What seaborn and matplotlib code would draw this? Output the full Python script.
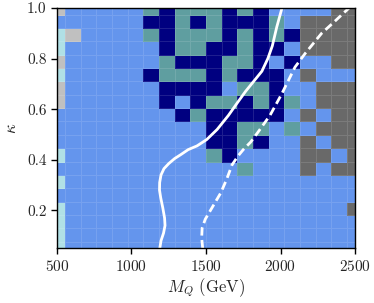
import matplotlib
matplotlib.use("Agg")
import matplotlib.pyplot as plt
from matplotlib.colors import ListedColormap
import numpy as np
import seaborn as sns

# grid of scan points (cell centres)
mq_vals = [500, 605, 711, 816, 921, 1026, 1132, 1237, 1342, 1447,
           1553, 1658, 1763, 1868, 1974, 2079, 2184, 2289, 2395, 2500]
kappa_vals = [0.05, 0.103, 0.156, 0.208, 0.261, 0.314, 0.367, 0.419, 0.472, 0.525,
              0.578, 0.631, 0.683, 0.736, 0.789, 0.842, 0.894, 0.947, 1.0]

# category per cell, rows from kappa = 1.0 (top) down to 0.05 (bottom)
# B allowed, N navy, T teal, G excluded, S silver, P pale
cell_rows = [
    "SBBBBBTNTTTNTNBBBBGG",
    "BBBBBBNNTNTNNNTBGGGG",
    "PSBBBBTNTTTNTNTNGGGG",
    "PBBBBBBNTTNNTNNBGGGG",
    "SBBBBBBTNNNTTNBNBBGG",
    "PBBBBBNTTTNTNNNBGBBB",
    "SBBBBBBNNNNBTTNBBGGG",
    "SBBBBBBNBNTTNTNTBGGG",
    "BBBBBBBBNTNNNNNBGBGG",
    "BBBBBBBBBBNNTTBTBGGG",
    "BBBBBBBBBBNNTNBBGBGG",
    "PBBBBBBBBBTNBBBBGGBG",
    "BBBBBBBBBBBBTBBBGBGG",
    "PBBBBBBBBBBBBBBBBBBB",
    "BBBBBBBBBBBBBBBBBBBB",
    "PBBBBBBBBBBBBBBBBBBG",
    "PBBBBBBBBBBBBBBBBBBB",
    "PBBBBBBBBBBBBBBBBBBB",
    "PBBBBBBBBBBBBBBBBBBB",
]
codes = "BNTGSP"
colors = ["#6495ED", "#000080", "#5F9EA0", "#696969", "#C0C0C0", "#B0E0E6"]

# contour lines
solid_mq = [1190, 1198, 1215, 1225, 1222, 1210, 1196, 1188, 1189, 1198,
            1218, 1250, 1290, 1330, 1380, 1440, 1505, 1575, 1650, 1710,
            1765, 1820, 1875, 1915, 1945, 1975, 2010]
solid_kappa = [0.05, 0.08, 0.11, 0.14, 0.17, 0.21, 0.25, 0.28, 0.31, 0.34,
               0.365, 0.385, 0.405, 0.42, 0.44, 0.455, 0.48, 0.52, 0.575, 0.625,
               0.67, 0.71, 0.75, 0.80, 0.85, 0.925, 1.0]
dashed_mq = [1478, 1471, 1474, 1495, 1520, 1550, 1600, 1640, 1675, 1715,
             1750, 1800, 1850, 1930, 2008, 2097, 2165, 2276, 2360, 2460]
dashed_kappa = [0.05, 0.09, 0.13, 0.165, 0.19, 0.22, 0.27, 0.325, 0.38, 0.415,
                0.44, 0.47, 0.51, 0.576, 0.66, 0.766, 0.82, 0.90, 0.945, 1.0]

grid = np.array([[codes.index(c) for c in row] for row in cell_rows[::-1]])

sns.set_theme(style="ticks")
plt.rcParams["font.family"] = "serif"
plt.rcParams["font.serif"] = ["cmr10", "DejaVu Serif"]
plt.rcParams["mathtext.fontset"] = "cm"
plt.rcParams["axes.formatter.use_mathtext"] = True
plt.rcParams["axes.unicode_minus"] = False

fig = plt.figure(figsize=(3.74, 3.03), dpi=100)
ax = fig.add_axes([0.1524, 0.1805, 0.7968, 0.7931])

ax.pcolormesh(mq_vals, kappa_vals, grid, shading="nearest",
              cmap=ListedColormap(colors), vmin=-0.5, vmax=5.5,
              edgecolors=(1, 1, 1, 0.12), linewidth=0.5)

sns.lineplot(x=solid_mq, y=solid_kappa, sort=False, estimator=None, ax=ax,
             color="white", linewidth=2)
sns.lineplot(x=dashed_mq, y=dashed_kappa, sort=False, estimator=None, ax=ax,
             color="white", linewidth=2, linestyle="--")
ax.lines[-1].set_dashes([3, 1.6])

ax.set_xlim(500, 2500)
ax.set_ylim(0.05, 1.0)
ax.set_xticks([500, 1000, 1500, 2000, 2500])
ax.set_yticks([0.2, 0.4, 0.6, 0.8, 1.0])
ax.set_yticklabels(["0.2", "0.4", "0.6", "0.8", "1.0"])
ax.tick_params(labelsize=11, length=4, width=1, color="black", direction="out")
ax.set_xlabel(r"$M_Q$ (GeV)", fontsize=12, labelpad=2)
ax.set_ylabel(r"$\kappa$", fontsize=12, labelpad=6)
for sp in ax.spines.values():
    sp.set_visible(True)
    sp.set_color("black")
    sp.set_linewidth(1.0)

fig.savefig("out.png", dpi=100)
